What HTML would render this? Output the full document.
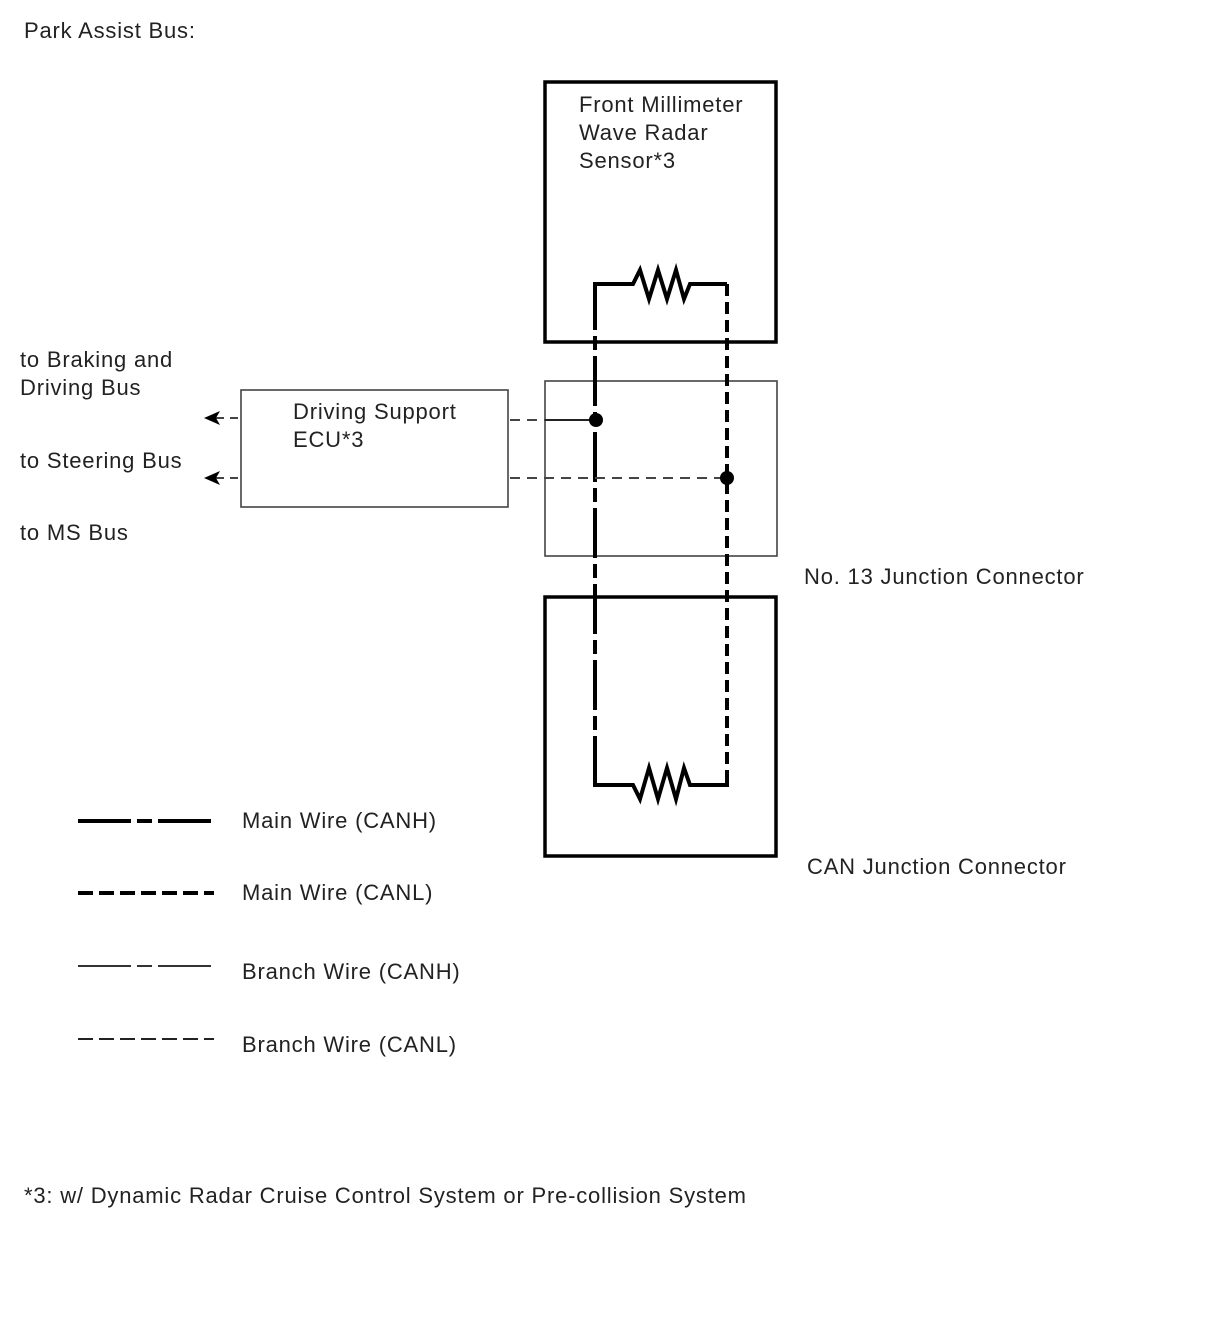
<!DOCTYPE html>
<html><head><meta charset="utf-8"><style>
html,body{margin:0;padding:0;background:#fff;}
svg{display:block;}
text{font-family:"Liberation Sans",sans-serif;font-size:22px;letter-spacing:0.8px;fill:#222;}
</style></head><body>
<svg width="1210" height="1328" viewBox="0 0 1210 1328" xmlns="http://www.w3.org/2000/svg">
<text x="24" y="38">Park Assist Bus:</text>
<rect x="545" y="82" width="231" height="260" fill="none" stroke="#000" stroke-width="3.5"/>
<text x="579" y="112">Front Millimeter</text>
<text x="579" y="140">Wave Radar</text>
<text x="579" y="168">Sensor*3</text>
<rect x="545" y="381" width="232" height="175" fill="none" stroke="#444" stroke-width="1.6"/>
<rect x="545" y="597" width="231" height="259" fill="none" stroke="#000" stroke-width="3.5"/>
<rect x="241" y="390" width="267" height="117" fill="none" stroke="#444" stroke-width="1.6"/>
<text x="293" y="419">Driving Support</text>
<text x="293" y="447">ECU*3</text>
<text x="20" y="367">to Braking and</text>
<text x="20" y="395">Driving Bus</text>
<text x="20" y="468">to Steering Bus</text>
<text x="20" y="540">to MS Bus</text>
<text x="804" y="584">No. 13 Junction Connector</text>
<text x="807" y="874">CAN Junction Connector</text>
<polyline points="595,330 595,284 633,284 640,270 649,299 658,270 667,299 676,270 684,299 690,284 727,284" fill="none" stroke="#000" stroke-width="4"/>
<polyline points="595,740 595,785 633,785 640,799 649,768 658,799 667,768 676,799 684,768 690,785 727,785 727,770" fill="none" stroke="#000" stroke-width="4"/>
<line x1="595" y1="330" x2="595" y2="740" stroke="#000" stroke-width="4" stroke-dasharray="14 6 50 6" stroke-dashoffset="-6"/>
<line x1="727" y1="284" x2="727" y2="780" stroke="#000" stroke-width="4" stroke-dasharray="12 6"/>
<line x1="510" y1="420" x2="545" y2="420" stroke="#444" stroke-width="2" stroke-dasharray="10 7"/>
<line x1="545" y1="420" x2="596" y2="420" stroke="#222" stroke-width="2"/>
<line x1="510" y1="478" x2="727" y2="478" stroke="#444" stroke-width="2" stroke-dasharray="10 7"/>
<circle cx="596" cy="420" r="7" fill="#000"/>
<circle cx="727" cy="478" r="7" fill="#000"/>
<line x1="216" y1="418" x2="241" y2="418" stroke="#444" stroke-width="2" stroke-dasharray="8 6"/>
<line x1="216" y1="478" x2="241" y2="478" stroke="#444" stroke-width="2" stroke-dasharray="8 6"/>
<polygon points="204,418 220,411 216,418 220,425" fill="#000"/>
<polygon points="204,478 220,471 216,478 220,485" fill="#000"/>
<line x1="78" y1="821" x2="211" y2="821" stroke="#000" stroke-width="4" stroke-dasharray="53 6 15 6"/>
<text x="242" y="828">Main Wire (CANH)</text>
<line x1="78" y1="893" x2="214" y2="893" stroke="#000" stroke-width="4" stroke-dasharray="15 6"/>
<text x="242" y="900">Main Wire (CANL)</text>
<line x1="78" y1="966" x2="211" y2="966" stroke="#333" stroke-width="2" stroke-dasharray="53 6 15 6"/>
<text x="242" y="979">Branch Wire (CANH)</text>
<line x1="78" y1="1039" x2="214" y2="1039" stroke="#222" stroke-width="2" stroke-dasharray="15 6"/>
<text x="242" y="1052">Branch Wire (CANL)</text>
<text x="24" y="1203">*3: w/ Dynamic Radar Cruise Control System or Pre-collision System</text>
</svg>
</body></html>
